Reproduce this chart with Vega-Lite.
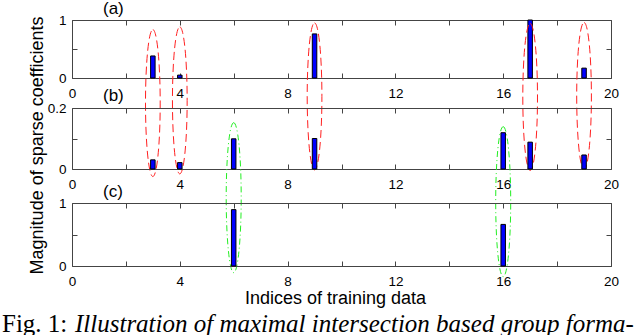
{
  "$schema": "https://vega.github.io/schema/vega-lite/v6.json",
  "background": "white",
  "padding": {"left": 2, "top": -1, "right": 0, "bottom": 0},
  "autosize": {"type": "pad"},
  "bounds": "flush",
  "spacing": 30,
  "datasets": {
    "coef": [
      {"panel": "a", "idx": 3, "value": 0.38},
      {"panel": "a", "idx": 4, "value": 0.05},
      {"panel": "a", "idx": 9, "value": 0.76},
      {"panel": "a", "idx": 17, "value": 1.0},
      {"panel": "a", "idx": 19, "value": 0.17},
      {"panel": "b", "idx": 3, "value": 0.03},
      {"panel": "b", "idx": 4, "value": 0.021},
      {"panel": "b", "idx": 6, "value": 0.099},
      {"panel": "b", "idx": 9, "value": 0.1},
      {"panel": "b", "idx": 16, "value": 0.119},
      {"panel": "b", "idx": 17, "value": 0.088},
      {"panel": "b", "idx": 19, "value": 0.046},
      {"panel": "c", "idx": 6, "value": 0.895},
      {"panel": "c", "idx": 16, "value": 0.66}
    ],
    "groups": [
      {"group": "red", "idx": 3, "yc": -0.432},
      {"group": "red", "idx": 4, "yc": -0.386},
      {"group": "red", "idx": 9, "yc": -0.317},
      {"group": "red", "idx": 17, "yc": -0.328},
      {"group": "red", "idx": 19, "yc": -0.31},
      {"group": "green", "idx": 6, "yc": -0.094},
      {"group": "green", "idx": 16, "yc": -0.107}
    ]
  },
  "config": {
    "view": {"stroke": "#444444", "strokeWidth": 1},
    "axis": {
      "grid": false,
      "domain": false,
      "tickSize": -5,
      "tickColor": "#444444",
      "tickWidth": 1,
      "format": "~g",
      "labelFont": "Liberation Sans",
      "labelFontSize": 13.5,
      "labelColor": "#000000",
      "labelFlush": false,
      "labelOverlap": false,
      "titleFont": "Liberation Sans",
      "titleFontSize": 18,
      "titleFontWeight": "normal",
      "titleColor": "#000000"
    },
    "axisX": {"labelPadding": 13},
    "axisY": {"labelPadding": 11},
    "title": {
      "font": "Liberation Sans",
      "fontSize": 17,
      "fontWeight": "normal",
      "color": "#000000",
      "anchor": "start",
      "frame": "group",
      "offset": -4.5,
      "dx": 31
    }
  },
  "title": {
    "text": "Fig. 1:",
    "orient": "bottom",
    "anchor": "start",
    "frame": "group",
    "dx": -70,
    "dy": -25,
    "font": "Liberation Serif",
    "fontSize": 25,
    "fontStyle": "normal",
    "fontWeight": "normal",
    "offset": 0
  },
  "vconcat": [
    {
      "width": 539,
      "height": 58,
      "title": {"text": "(a)"},
      "layer": [
        {
          "data": {"name": "coef"},
          "transform": [{"filter": "datum.panel == 'a'"}],
          "mark": {"type": "bar", "size": 4.5, "fill": "#0000ff", "stroke": "#000000", "strokeWidth": 1},
          "encoding": {
            "x": {"field": "idx", "type": "quantitative", "scale": {"domain": [0, 20], "nice": false, "padding": 0},
              "axis": {"values": [0, 2, 4, 6, 8, 10, 12, 14, 16, 18, 20], "labelExpr": "datum.value % 4 === 0 ? datum.label : ''", "title": null}},
            "y": {"field": "value", "type": "quantitative", "scale": {"domain": [0, 1], "nice": false, "padding": 0},
              "axis": {"values": [0, 0.5, 1], "labelExpr": "datum.value === 0.5 ? '' : datum.label", "title": null}}
          }
        },
        {
          "data": {"name": "coef"},
          "transform": [{"filter": "datum.panel == 'a'"}],
          "mark": {"type": "point", "opacity": 0},
          "encoding": {
            "x": {"field": "idx", "type": "quantitative", "scale": {"domain": [0, 20], "nice": false, "padding": 0},
              "axis": {"orient": "top", "values": [0, 2, 4, 6, 8, 10, 12, 14, 16, 18, 20], "labels": false, "title": null}},
            "y": {"field": "value", "type": "quantitative", "scale": {"domain": [0, 1], "nice": false, "padding": 0},
              "axis": {"orient": "right", "values": [0, 0.5, 1], "labels": false, "title": null}}
          }
        },
        {
          "data": {"name": "groups"},
          "transform": [{"filter": "datum.group == 'red'"}],
          "mark": {"type": "point", "shape": "M0,-1A0.1,1,0,0,1,0,1A0.1,1,0,0,1,0,-1Z", "size": 21600, "filled": false, "opacity": 1, "stroke": "#ff2020", "strokeWidth": 1, "strokeDash": [8, 4]},
          "encoding": {
            "x": {"field": "idx", "type": "quantitative", "scale": {"domain": [0, 20], "nice": false, "padding": 0}, "axis": null},
            "y": {"field": "yc", "type": "quantitative", "scale": {"domain": [0, 1], "nice": false, "padding": 0}, "axis": null}
          }
        }
      ],
      "resolve": {"axis": {"x": "independent", "y": "independent"}}
    },
    {
      "spacing": 34,
      "bounds": "flush",
      "title": {
        "text": "Illustration of maximal intersection based group forma-",
        "orient": "bottom",
        "anchor": "start",
        "frame": "group",
        "dx": 3,
        "dy": 0,
        "offset": 4,
        "font": "Liberation Serif",
        "fontSize": 25,
        "fontStyle": "italic",
        "fontWeight": "normal"
      },
      "vconcat": [
        {
          "width": 539,
          "height": 61,
          "title": {"text": "(b)", "dy": 84},
          "layer": [
            {
              "data": {"name": "coef"},
              "transform": [{"filter": "datum.panel == 'b'"}],
              "mark": {"type": "bar", "size": 4.5, "fill": "#0000ff", "stroke": "#000000", "strokeWidth": 1},
              "encoding": {
                "x": {"field": "idx", "type": "quantitative", "scale": {"domain": [0, 20], "nice": false, "padding": 0},
                  "axis": {"values": [0, 2, 4, 6, 8, 10, 12, 14, 16, 18, 20], "labelExpr": "datum.value % 4 === 0 ? datum.label : ''", "title": null}},
                "y": {"field": "value", "type": "quantitative", "scale": {"domain": [0, 0.2], "nice": false, "padding": 0},
                  "axis": {"values": [0, 0.1, 0.2], "labelExpr": "datum.value === 0.1 ? '' : datum.label", "title": "Magnitude of sparse coefficients", "titlePadding": 1, "titleY": 37}}
              }
            },
            {
              "data": {"name": "coef"},
              "transform": [{"filter": "datum.panel == 'b'"}],
              "mark": {"type": "point", "opacity": 0},
              "encoding": {
                "x": {"field": "idx", "type": "quantitative", "scale": {"domain": [0, 20], "nice": false, "padding": 0},
                  "axis": {"orient": "top", "values": [0, 2, 4, 6, 8, 10, 12, 14, 16, 18, 20], "labels": false, "title": null}},
                "y": {"field": "value", "type": "quantitative", "scale": {"domain": [0, 0.2], "nice": false, "padding": 0},
                  "axis": {"orient": "right", "values": [0, 0.1, 0.2], "labels": false, "title": null}}
              }
            },
            {
              "data": {"name": "groups"},
              "transform": [{"filter": "datum.group == 'green'"}],
              "mark": {"type": "point", "shape": "M0,-1A0.1,1,0,0,1,0,1A0.1,1,0,0,1,0,-1Z", "size": 22500, "filled": false, "opacity": 1, "stroke": "#22ee22", "strokeWidth": 1, "strokeDash": [6, 3, 1, 3]},
              "encoding": {
                "x": {"field": "idx", "type": "quantitative", "scale": {"domain": [0, 20], "nice": false, "padding": 0}, "axis": null},
                "y": {"field": "yc", "type": "quantitative", "scale": {"domain": [0, 0.2], "nice": false, "padding": 0}, "axis": null}
              }
            }
          ],
          "resolve": {"axis": {"x": "independent", "y": "independent"}}
        },
        {
          "width": 539,
          "height": 63,
          "title": {"text": "(c)"},
          "layer": [
            {
              "data": {"name": "coef"},
              "transform": [{"filter": "datum.panel == 'c'"}],
              "mark": {"type": "bar", "size": 4.5, "fill": "#0000ff", "stroke": "#000000", "strokeWidth": 1},
              "encoding": {
                "x": {"field": "idx", "type": "quantitative", "scale": {"domain": [0, 20], "nice": false, "padding": 0},
                  "axis": {"values": [0, 2, 4, 6, 8, 10, 12, 14, 16, 18, 20], "labelExpr": "datum.value % 4 === 0 ? datum.label : ''", "title": "Indices of training data", "titlePadding": 2, "titleX": 263}},
                "y": {"field": "value", "type": "quantitative", "scale": {"domain": [0, 1], "nice": false, "padding": 0},
                  "axis": {"values": [0, 0.5, 1], "labelExpr": "datum.value === 0.5 ? '' : datum.label", "title": null}}
              }
            },
            {
              "data": {"name": "coef"},
              "transform": [{"filter": "datum.panel == 'c'"}],
              "mark": {"type": "point", "opacity": 0},
              "encoding": {
                "x": {"field": "idx", "type": "quantitative", "scale": {"domain": [0, 20], "nice": false, "padding": 0},
                  "axis": {"orient": "top", "values": [0, 2, 4, 6, 8, 10, 12, 14, 16, 18, 20], "labels": false, "title": null}},
                "y": {"field": "value", "type": "quantitative", "scale": {"domain": [0, 1], "nice": false, "padding": 0},
                  "axis": {"orient": "right", "values": [0, 0.5, 1], "labels": false, "title": null}}
              }
            }
          ],
          "resolve": {"axis": {"x": "independent", "y": "independent"}}
        }
      ]
    }
  ]
}
